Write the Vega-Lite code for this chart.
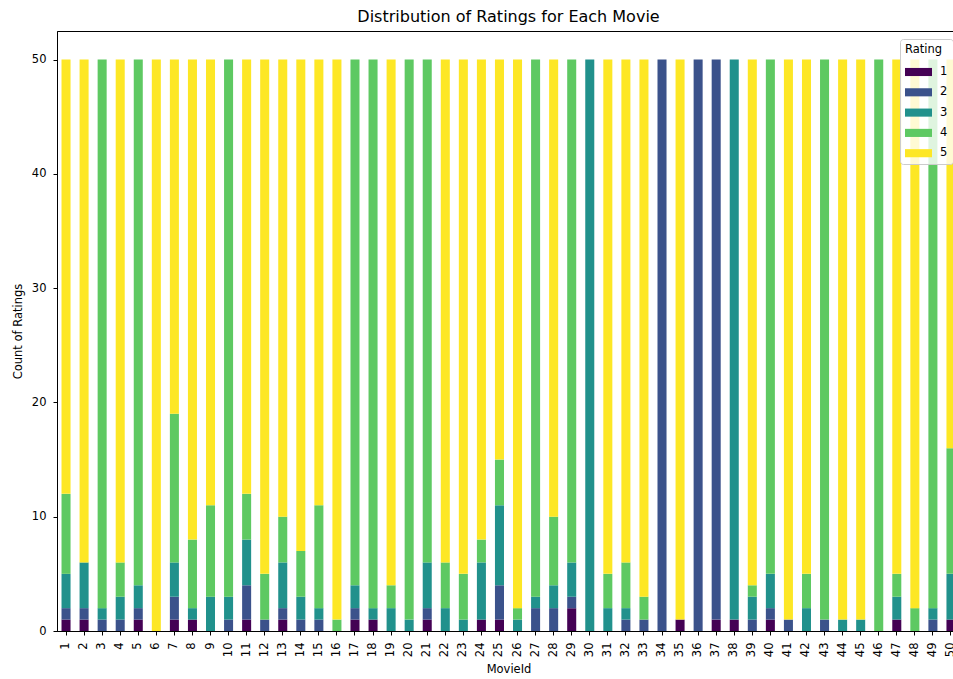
{
  "$schema": "https://vega.github.io/schema/vega-lite/v6.json",
  "autosize": "none",
  "width": 896,
  "height": 600,
  "padding": {"left": 57, "top": 31, "right": 0, "bottom": 48},
  "background": "white",
  "title": {"text": "Distribution of Ratings for Each Movie", "fontSize": 16, "font": "DejaVu Sans", "fontWeight": "normal", "color": "black", "offset": 6, "anchor": "middle", "frame": "group", "dx": 3.5},
  "data": {"values": [
    {"MovieId":1,"Rating":1,"Count":1},{"MovieId":1,"Rating":2,"Count":1},{"MovieId":1,"Rating":3,"Count":3},{"MovieId":1,"Rating":4,"Count":7},{"MovieId":1,"Rating":5,"Count":38},
    {"MovieId":2,"Rating":1,"Count":1},{"MovieId":2,"Rating":2,"Count":1},{"MovieId":2,"Rating":3,"Count":4},{"MovieId":2,"Rating":5,"Count":44},
    {"MovieId":3,"Rating":2,"Count":1},{"MovieId":3,"Rating":3,"Count":1},{"MovieId":3,"Rating":4,"Count":48},
    {"MovieId":4,"Rating":2,"Count":1},{"MovieId":4,"Rating":3,"Count":2},{"MovieId":4,"Rating":4,"Count":3},{"MovieId":4,"Rating":5,"Count":44},
    {"MovieId":5,"Rating":1,"Count":1},{"MovieId":5,"Rating":2,"Count":1},{"MovieId":5,"Rating":3,"Count":2},{"MovieId":5,"Rating":4,"Count":46},
    {"MovieId":6,"Rating":5,"Count":50},
    {"MovieId":7,"Rating":1,"Count":1},{"MovieId":7,"Rating":2,"Count":2},{"MovieId":7,"Rating":3,"Count":3},{"MovieId":7,"Rating":4,"Count":13},{"MovieId":7,"Rating":5,"Count":31},
    {"MovieId":8,"Rating":1,"Count":1},{"MovieId":8,"Rating":3,"Count":1},{"MovieId":8,"Rating":4,"Count":6},{"MovieId":8,"Rating":5,"Count":42},
    {"MovieId":9,"Rating":3,"Count":3},{"MovieId":9,"Rating":4,"Count":8},{"MovieId":9,"Rating":5,"Count":39},
    {"MovieId":10,"Rating":2,"Count":1},{"MovieId":10,"Rating":3,"Count":2},{"MovieId":10,"Rating":4,"Count":47},
    {"MovieId":11,"Rating":1,"Count":1},{"MovieId":11,"Rating":2,"Count":3},{"MovieId":11,"Rating":3,"Count":4},{"MovieId":11,"Rating":4,"Count":4},{"MovieId":11,"Rating":5,"Count":38},
    {"MovieId":12,"Rating":2,"Count":1},{"MovieId":12,"Rating":4,"Count":4},{"MovieId":12,"Rating":5,"Count":45},
    {"MovieId":13,"Rating":1,"Count":1},{"MovieId":13,"Rating":2,"Count":1},{"MovieId":13,"Rating":3,"Count":4},{"MovieId":13,"Rating":4,"Count":4},{"MovieId":13,"Rating":5,"Count":40},
    {"MovieId":14,"Rating":2,"Count":1},{"MovieId":14,"Rating":3,"Count":2},{"MovieId":14,"Rating":4,"Count":4},{"MovieId":14,"Rating":5,"Count":43},
    {"MovieId":15,"Rating":2,"Count":1},{"MovieId":15,"Rating":3,"Count":1},{"MovieId":15,"Rating":4,"Count":9},{"MovieId":15,"Rating":5,"Count":39},
    {"MovieId":16,"Rating":4,"Count":1},{"MovieId":16,"Rating":5,"Count":49},
    {"MovieId":17,"Rating":1,"Count":1},{"MovieId":17,"Rating":2,"Count":1},{"MovieId":17,"Rating":3,"Count":2},{"MovieId":17,"Rating":4,"Count":46},
    {"MovieId":18,"Rating":1,"Count":1},{"MovieId":18,"Rating":3,"Count":1},{"MovieId":18,"Rating":4,"Count":48},
    {"MovieId":19,"Rating":3,"Count":2},{"MovieId":19,"Rating":4,"Count":2},{"MovieId":19,"Rating":5,"Count":46},
    {"MovieId":20,"Rating":3,"Count":1},{"MovieId":20,"Rating":4,"Count":49},
    {"MovieId":21,"Rating":1,"Count":1},{"MovieId":21,"Rating":2,"Count":1},{"MovieId":21,"Rating":3,"Count":4},{"MovieId":21,"Rating":4,"Count":44},
    {"MovieId":22,"Rating":3,"Count":2},{"MovieId":22,"Rating":4,"Count":4},{"MovieId":22,"Rating":5,"Count":44},
    {"MovieId":23,"Rating":3,"Count":1},{"MovieId":23,"Rating":4,"Count":4},{"MovieId":23,"Rating":5,"Count":45},
    {"MovieId":24,"Rating":1,"Count":1},{"MovieId":24,"Rating":3,"Count":5},{"MovieId":24,"Rating":4,"Count":2},{"MovieId":24,"Rating":5,"Count":42},
    {"MovieId":25,"Rating":1,"Count":1},{"MovieId":25,"Rating":2,"Count":3},{"MovieId":25,"Rating":3,"Count":7},{"MovieId":25,"Rating":4,"Count":4},{"MovieId":25,"Rating":5,"Count":35},
    {"MovieId":26,"Rating":3,"Count":1},{"MovieId":26,"Rating":4,"Count":1},{"MovieId":26,"Rating":5,"Count":48},
    {"MovieId":27,"Rating":2,"Count":2},{"MovieId":27,"Rating":3,"Count":1},{"MovieId":27,"Rating":4,"Count":47},
    {"MovieId":28,"Rating":2,"Count":2},{"MovieId":28,"Rating":3,"Count":2},{"MovieId":28,"Rating":4,"Count":6},{"MovieId":28,"Rating":5,"Count":40},
    {"MovieId":29,"Rating":1,"Count":2},{"MovieId":29,"Rating":2,"Count":1},{"MovieId":29,"Rating":3,"Count":3},{"MovieId":29,"Rating":4,"Count":44},
    {"MovieId":30,"Rating":3,"Count":50},
    {"MovieId":31,"Rating":3,"Count":2},{"MovieId":31,"Rating":4,"Count":3},{"MovieId":31,"Rating":5,"Count":45},
    {"MovieId":32,"Rating":2,"Count":1},{"MovieId":32,"Rating":3,"Count":1},{"MovieId":32,"Rating":4,"Count":4},{"MovieId":32,"Rating":5,"Count":44},
    {"MovieId":33,"Rating":2,"Count":1},{"MovieId":33,"Rating":4,"Count":2},{"MovieId":33,"Rating":5,"Count":47},
    {"MovieId":34,"Rating":2,"Count":50},
    {"MovieId":35,"Rating":1,"Count":1},{"MovieId":35,"Rating":5,"Count":49},
    {"MovieId":36,"Rating":2,"Count":50},
    {"MovieId":37,"Rating":1,"Count":1},{"MovieId":37,"Rating":2,"Count":49},
    {"MovieId":38,"Rating":1,"Count":1},{"MovieId":38,"Rating":3,"Count":49},
    {"MovieId":39,"Rating":2,"Count":1},{"MovieId":39,"Rating":3,"Count":2},{"MovieId":39,"Rating":4,"Count":1},{"MovieId":39,"Rating":5,"Count":46},
    {"MovieId":40,"Rating":1,"Count":1},{"MovieId":40,"Rating":2,"Count":1},{"MovieId":40,"Rating":3,"Count":3},{"MovieId":40,"Rating":4,"Count":45},
    {"MovieId":41,"Rating":2,"Count":1},{"MovieId":41,"Rating":5,"Count":49},
    {"MovieId":42,"Rating":3,"Count":2},{"MovieId":42,"Rating":4,"Count":3},{"MovieId":42,"Rating":5,"Count":45},
    {"MovieId":43,"Rating":2,"Count":1},{"MovieId":43,"Rating":4,"Count":49},
    {"MovieId":44,"Rating":3,"Count":1},{"MovieId":44,"Rating":5,"Count":49},
    {"MovieId":45,"Rating":3,"Count":1},{"MovieId":45,"Rating":5,"Count":49},
    {"MovieId":46,"Rating":4,"Count":50},
    {"MovieId":47,"Rating":1,"Count":1},{"MovieId":47,"Rating":3,"Count":2},{"MovieId":47,"Rating":4,"Count":2},{"MovieId":47,"Rating":5,"Count":45},
    {"MovieId":48,"Rating":4,"Count":2},{"MovieId":48,"Rating":5,"Count":48},
    {"MovieId":49,"Rating":2,"Count":1},{"MovieId":49,"Rating":3,"Count":1},{"MovieId":49,"Rating":4,"Count":48},
    {"MovieId":50,"Rating":1,"Count":1},{"MovieId":50,"Rating":3,"Count":4},{"MovieId":50,"Rating":4,"Count":11},{"MovieId":50,"Rating":5,"Count":34}
  ]},
  "mark": {"type": "bar"},
  "encoding": {
    "x": {
      "field": "MovieId", "type": "ordinal",
      "scale": {"paddingInner": 0.5, "paddingOuter": 0.25, "range": [0, 903]},
      "axis": {"title": "MovieId", "labelAngle": -90, "titlePadding": 7, "labelPadding": 7}
    },
    "y": {
      "field": "Count", "type": "quantitative", "stack": "zero",
      "scale": {"domain": [0, 52.5], "nice": false},
      "axis": {"title": "Count of Ratings", "values": [0, 10, 20, 30, 40, 50], "titlePadding": 8, "labelPadding": 7}
    },
    "color": {
      "field": "Rating", "type": "nominal",
      "scale": {"domain": [1, 2, 3, 4, 5], "range": ["#440154", "#3b528b", "#21918c", "#5ec962", "#fde725"]},
      "legend": {
        "title": "Rating", "orient": "none", "legendX": 843, "legendY": 8,
        "titleFontSize": 11.5, "titleFontWeight": "normal", "titleColor": "black", "titlePadding": 3,
        "labelFontSize": 11.5, "labelColor": "black", "labelOffset": 8,
        "symbolType": "M-1,-0.3H1V0.3H-1Z", "symbolSize": 729, "symbolStrokeWidth": 0, "symbolOpacity": 1,
        "rowPadding": 1.3, "padding": 5,
        "fillColor": "rgba(255,255,255,0.8)", "strokeColor": "#cccccc", "cornerRadius": 3
      }
    },
    "order": {"field": "Rating", "type": "quantitative", "sort": "ascending"}
  },
  "config": {
    "font": "DejaVu Sans",
    "view": {"stroke": "black", "strokeWidth": 1},
    "axis": {
      "grid": false, "domainColor": "black", "domainWidth": 1, "tickColor": "black", "tickSize": 4, "tickWidth": 1,
      "labelColor": "black", "labelFontSize": 11.5, "labelFont": "DejaVu Sans",
      "titleColor": "black", "titleFontSize": 11.5, "titleFontWeight": "normal", "titleFont": "DejaVu Sans"
    },
    "legend": {"labelFont": "DejaVu Sans", "titleFont": "DejaVu Sans"}
  }
}
